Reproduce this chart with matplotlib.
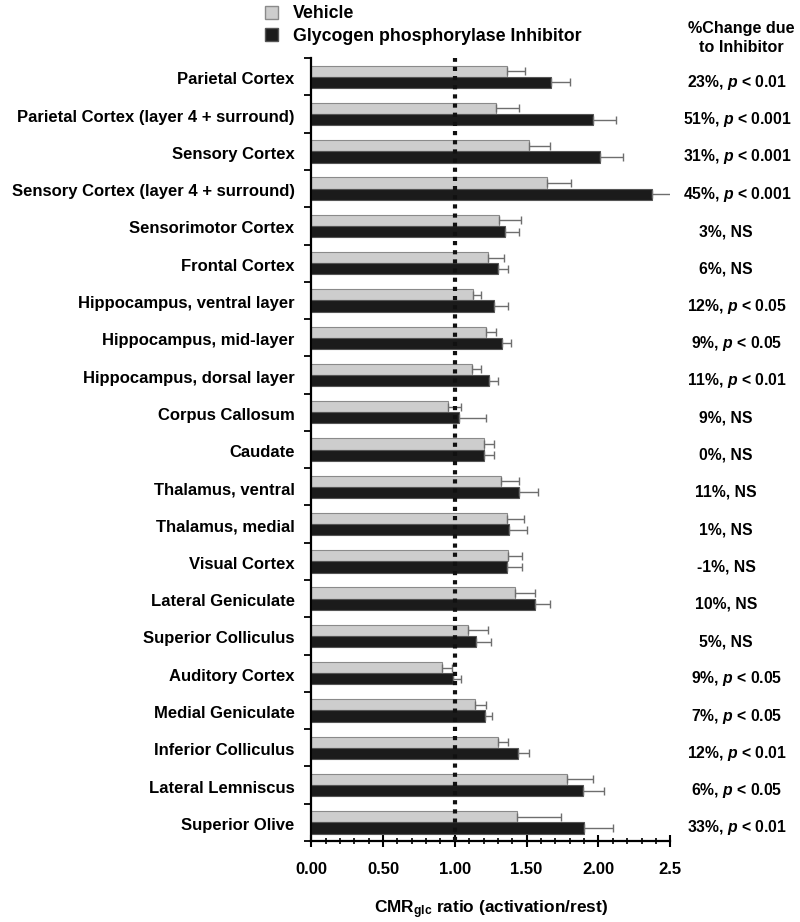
import matplotlib
matplotlib.use("Agg")
import matplotlib.pyplot as plt
from matplotlib.patches import Patch
from matplotlib.ticker import MultipleLocator, FixedLocator
import numpy as np

plt.rcParams['font.family'] = ['Liberation Sans', 'DejaVu Sans']
plt.rcParams['font.weight'] = 'bold'
plt.rcParams['mathtext.fontset'] = 'custom'
plt.rcParams['mathtext.rm'] = 'Liberation Sans:bold'
plt.rcParams['mathtext.it'] = 'Liberation Sans:bold:italic'
plt.rcParams['mathtext.bf'] = 'Liberation Sans:bold'

regions = [
    "Parietal Cortex", "Parietal Cortex (layer 4 + surround)", "Sensory Cortex",
    "Sensory Cortex (layer 4 + surround)", "Sensorimotor Cortex", "Frontal Cortex",
    "Hippocampus, ventral layer", "Hippocampus, mid-layer", "Hippocampus, dorsal layer",
    "Corpus Callosum", "Caudate", "Thalamus, ventral", "Thalamus, medial",
    "Visual Cortex", "Lateral Geniculate", "Superior Colliculus", "Auditory Cortex",
    "Medial Geniculate", "Inferior Colliculus", "Lateral Lemniscus", "Superior Olive",
]
vehicle = [1.36, 1.29, 1.52, 1.64, 1.31, 1.23, 1.13, 1.22, 1.12, 0.95, 1.20,
           1.32, 1.36, 1.37, 1.42, 1.09, 0.91, 1.14, 1.30, 1.78, 1.43]
vehicle_err = [0.13, 0.16, 0.14, 0.17, 0.15, 0.11, 0.05, 0.07, 0.06, 0.09, 0.07,
               0.13, 0.12, 0.10, 0.14, 0.14, 0.07, 0.08, 0.07, 0.18, 0.31]
inhibitor = [1.67, 1.96, 2.01, 2.37, 1.35, 1.30, 1.27, 1.33, 1.24, 1.03, 1.20,
             1.45, 1.38, 1.36, 1.56, 1.15, 0.99, 1.21, 1.44, 1.89, 1.90]
inhibitor_err = [0.13, 0.16, 0.16, 0.14, 0.10, 0.07, 0.10, 0.06, 0.06, 0.19, 0.07,
                 0.13, 0.12, 0.11, 0.10, 0.10, 0.05, 0.05, 0.08, 0.15, 0.20]
pct_change = ["23%", "51%", "31%", "45%", "3%", "6%", "12%", "9%", "11%", "9%", "0%",
              "11%", "1%", "-1%", "10%", "5%", "9%", "7%", "12%", "6%", "33%"]
significance = ["< 0.01", "< 0.001", "< 0.001", "< 0.001", "NS", "NS", "< 0.05",
                "< 0.05", "< 0.01", "NS", "NS", "NS", "NS", "NS", "NS", "NS",
                "< 0.05", "< 0.05", "< 0.01", "< 0.05", "< 0.01"]
x_ticks = [0.0, 0.5, 1.0, 1.5, 2.0, 2.5]
x_ticklabels = ["0.00", "0.50", "1.00", "1.50", "2.00", "2.5"]

fig = plt.figure(figsize=(8, 9.22), dpi=100)
ax = fig.add_axes([0.389, 0.0879, 0.4488, 0.849])

pos = np.arange(len(regions))
h = 0.30
err_kw = dict(ecolor='#6e6e6e', elinewidth=1.0, capsize=3, capthick=1.0)
ax.barh(pos - h / 2, vehicle, height=h, color='#cdcdcd', edgecolor='#8a8a8a',
        linewidth=0.8, xerr=[np.zeros(len(vehicle)), vehicle_err], error_kw=err_kw,
        label='Vehicle', zorder=2)
ax.barh(pos + h / 2, inhibitor, height=h, color='#1b1b1b', edgecolor='#555555',
        linewidth=0.8, xerr=[np.zeros(len(inhibitor)), inhibitor_err], error_kw=err_kw,
        label='Glycogen phosphorylase Inhibitor', zorder=2)

ax.axvline(1.0, color='#111111', linestyle=(0, (1, 1.2)), linewidth=3.0, zorder=3)

ax.set_xlim(0, 2.5)
ax.set_ylim(len(regions) - 0.5, -0.5)

ax.set_yticks(pos + 0.04)
ax.set_yticklabels(regions, fontsize=12, fontweight='bold')
ax.tick_params(axis='y', which='major', length=0, pad=12)
ax.yaxis.set_minor_locator(FixedLocator(np.arange(-0.5, len(regions), 1.0)))
ax.tick_params(axis='y', which='minor', length=5, width=1.3, direction='out')

ax.set_xticks(x_ticks)
ax.set_xticklabels(x_ticklabels, fontsize=12, fontweight='bold')
ax.xaxis.set_minor_locator(MultipleLocator(0.1))
ax.tick_params(axis='x', which='major', length=9, width=1.5, direction='inout', pad=11)
ax.tick_params(axis='x', which='minor', length=5, width=1.2, direction='inout')

for s in ['top', 'right']:
    ax.spines[s].set_visible(False)
for s in ['left', 'bottom']:
    ax.spines[s].set_linewidth(1.6)

ax.set_xlabel(r'CMR$_{\mathrm{glc}}$ ratio (activation/rest)', fontsize=12.4,
              fontweight='bold', labelpad=15)

# right-hand annotation column (x in figure coords, y in data coords)
trans = matplotlib.transforms.blended_transform_factory(fig.transFigure, ax.transData)
for i, (pc, sig) in enumerate(zip(pct_change, significance)):
    if sig == "NS":
        txt = f"{pc}, NS"
        xc = 726 / 800
    else:
        txt = f"{pc}, $p$ {sig}"
        xc = 737 / 800
    ax.text(xc, i + 0.15, txt, ha='center', va='center', fontsize=11.3,
            fontweight='bold', clip_on=False, transform=trans)

fig.text(741 / 800, 1 - 38 / 922, "%Change due\nto Inhibitor", ha='center', va='center',
         fontsize=11.6, fontweight='bold', linespacing=1.3)

handles = [Patch(facecolor='#cdcdcd', edgecolor='#8a8a8a', label='Vehicle'),
           Patch(facecolor='#1b1b1b', edgecolor='#555555',
                 label='Glycogen phosphorylase Inhibitor')]
fig.legend(handles=handles, loc='upper left', bbox_to_anchor=(258 / 800, 1.002),
           frameon=False, prop={'size': 12.8, 'weight': 'bold'}, handlelength=0.75,
           handleheight=0.75, handletextpad=0.8, labelspacing=0.3, borderaxespad=0)

fig.savefig("out.png", dpi=100)
